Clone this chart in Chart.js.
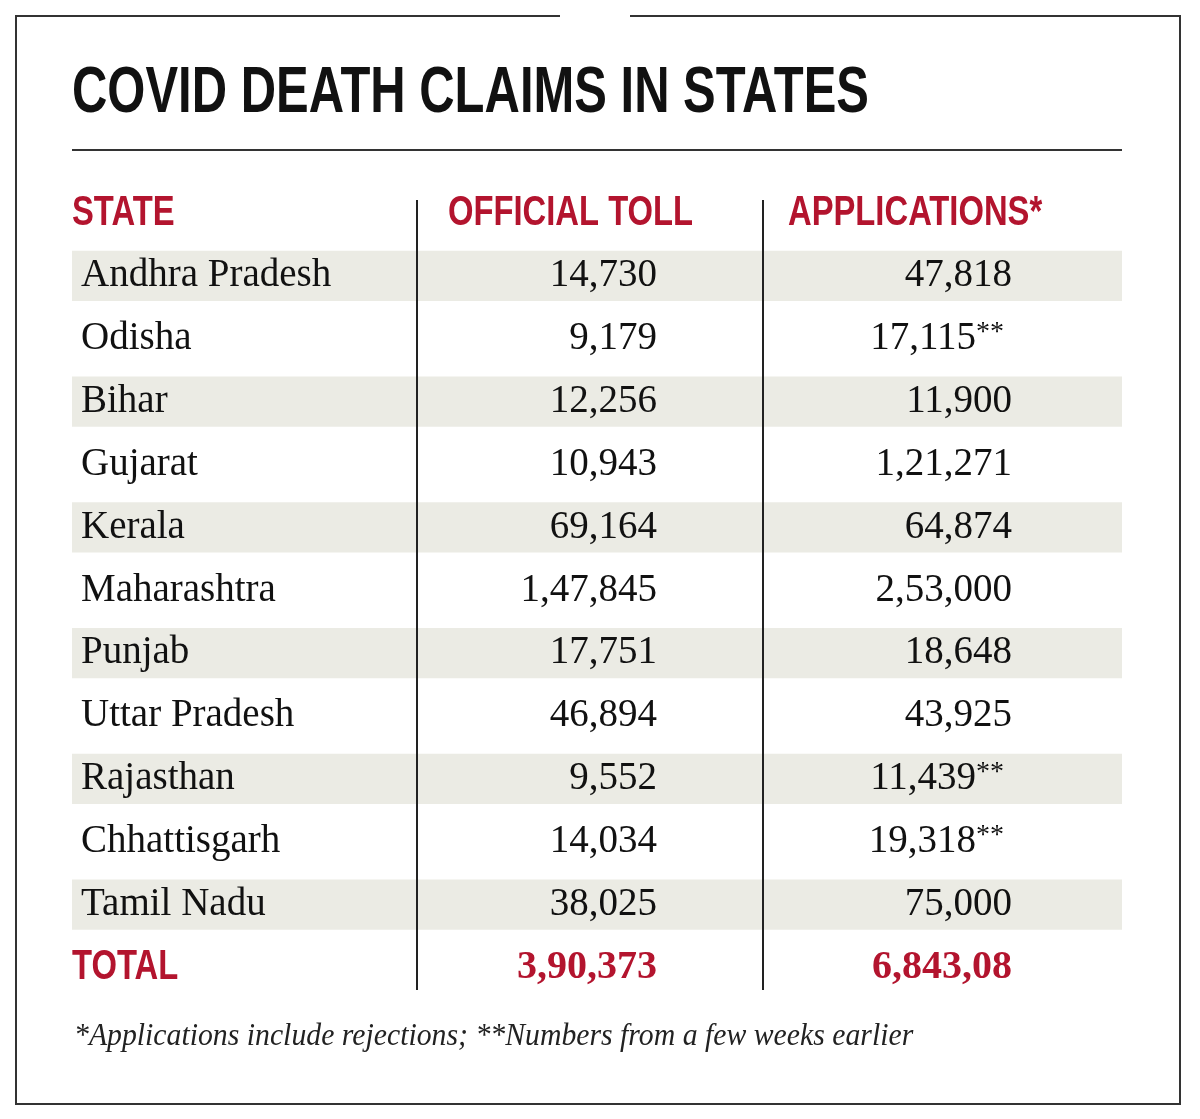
<!DOCTYPE html>
<html>
<head>
<meta charset="utf-8">
<script src="https://cdn.jsdelivr.net/npm/chart.js@4"></script>
<style>
  html, body { margin: 0; padding: 0; background: #fff; }
</style>
</head>
<body>
<canvas id="chart" width="1200" height="1119"></canvas>
<script>
const title = 'COVID DEATH CLAIMS IN STATES';
const headers = ['STATE', 'OFFICIAL TOLL', 'APPLICATIONS*'];
const states = ['Andhra Pradesh', 'Odisha', 'Bihar', 'Gujarat', 'Kerala', 'Maharashtra',
  'Punjab', 'Uttar Pradesh', 'Rajasthan', 'Chhattisgarh', 'Tamil Nadu'];
const officialToll = ['14,730', '9,179', '12,256', '10,943', '69,164', '1,47,845',
  '17,751', '46,894', '9,552', '14,034', '38,025'];
const applications = ['47,818', '17,115', '11,900', '1,21,271', '64,874', '2,53,000',
  '18,648', '43,925', '11,439', '19,318', '75,000'];
const olderNumbers = [false, true, false, false, false, false, false, false, true, true, false];
const totalLabel = 'TOTAL';
const totalToll = '3,90,373';
const totalApplications = '6,843,08';
const footnote = '*Applications include rejections; **Numbers from a few weeks earlier';

const RED = '#b3142e';
const rows = [headers[0], ...states, totalLabel];
// grey band on every other state row
const stripes = rows.map((r, i) => (i >= 1 && i <= states.length && i % 2 === 1) ? [72, 1122] : null);

const SERIF = '"Liberation Serif", "DejaVu Serif", serif';
const SANS = '"Liberation Sans", Arial, sans-serif';

// draw text squeezed horizontally to mimic a condensed face
function narrowText(ctx, text, x, y, sx, align) {
  ctx.save();
  ctx.translate(x, y);
  ctx.scale(sx, 1);
  ctx.textAlign = align || 'left';
  ctx.fillText(text, 0, 0);
  ctx.restore();
}

const tablePlugin = {
  id: 'tableText',
  beforeDraw(chart) {
    const ctx = chart.ctx;
    ctx.save();
    ctx.fillStyle = '#fff';
    ctx.fillRect(0, 0, chart.width, chart.height);
    ctx.strokeStyle = '#333';
    ctx.lineWidth = 2;
    ctx.beginPath();
    ctx.moveTo(560, 16); ctx.lineTo(16, 16); ctx.lineTo(16, 1104);
    ctx.lineTo(1180, 1104); ctx.lineTo(1180, 16); ctx.lineTo(630, 16);
    ctx.stroke();
    ctx.fillStyle = '#111';
    ctx.textBaseline = 'middle';
    ctx.font = 'bold 64px ' + SANS;
    narrowText(ctx, title, 72, 94, 0.765);
    ctx.lineWidth = 2;
    ctx.beginPath(); ctx.moveTo(72, 150); ctx.lineTo(1122, 150); ctx.stroke();
    ctx.restore();
  },
  afterDatasetsDraw(chart) {
    const ctx = chart.ctx;
    const y = chart.scales.y;
    const x = chart.scales.x;
    ctx.save();
    ctx.textBaseline = 'middle';
    ctx.strokeStyle = '#222';
    ctx.lineWidth = 2;
    [417, 763].forEach(v => {
      ctx.beginPath();
      ctx.moveTo(x.getPixelForValue(v), 200);
      ctx.lineTo(x.getPixelForValue(v), 990);
      ctx.stroke();
    });
    const c1 = x.getPixelForValue(72), c2 = x.getPixelForValue(657), c3 = x.getPixelForValue(1012);
    const hy = y.getPixelForValue(0);
    ctx.fillStyle = RED;
    ctx.font = 'bold 42px ' + SANS;
    narrowText(ctx, headers[0], c1, hy, 0.78);
    narrowText(ctx, headers[1], 448, hy, 0.78);
    narrowText(ctx, headers[2], 788, hy, 0.78);
    ctx.fillStyle = '#111';
    ctx.font = '39px ' + SERIF;
    states.forEach((s, i) => {
      const ry = y.getPixelForValue(i + 1);
      ctx.textAlign = 'left';
      ctx.fillText(s, c1 + 9, ry);
      ctx.textAlign = 'right';
      ctx.fillText(officialToll[i], c2, ry);
      ctx.fillText(applications[i], olderNumbers[i] ? c3 - 36 : c3, ry);
      if (olderNumbers[i]) {
        ctx.textAlign = 'left';
        ctx.font = '28px ' + SERIF;
        ctx.fillText('**', c3 - 36, ry - 6);
        ctx.font = '39px ' + SERIF;
      }
    });
    const ty = y.getPixelForValue(states.length + 1);
    ctx.fillStyle = RED;
    ctx.font = 'bold 42px ' + SANS;
    narrowText(ctx, totalLabel, c1, ty, 0.78);
    ctx.font = 'bold 40px ' + SERIF;
    ctx.textAlign = 'right';
    ctx.fillText(totalToll, c2, ty);
    ctx.fillText(totalApplications, c3, ty);
    ctx.fillStyle = '#222';
    ctx.font = 'italic 32px ' + SERIF;
    narrowText(ctx, footnote, 74, 1037, 0.93);
    ctx.restore();
  }
};

new Chart(document.getElementById('chart'), {
  type: 'bar',
  data: {
    labels: rows,
    datasets: [{
      data: stripes,
      backgroundColor: '#ebebe4',
      borderWidth: 0,
      barPercentage: 0.8,
      categoryPercentage: 1
    }]
  },
  options: {
    indexAxis: 'y',
    responsive: false,
    animation: false,
    devicePixelRatio: 1,
    layout: { padding: { top: 181.5, bottom: 120, left: 0, right: 0 } },
    plugins: { legend: { display: false }, tooltip: { enabled: false } },
    scales: {
      x: { type: 'linear', min: 0, max: 1200, display: false },
      y: { type: 'category', display: false, offset: true }
    }
  },
  plugins: [tablePlugin]
});
</script>
</body>
</html>
